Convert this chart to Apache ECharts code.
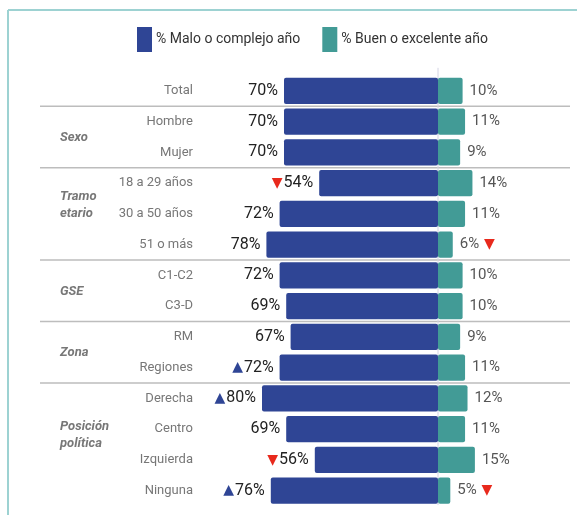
<!DOCTYPE html>
<html>
<head>
<meta charset="utf-8">
<script src="https://cdn.jsdelivr.net/npm/echarts@6/dist/echarts.min.js"></script>
<style>
html,body{margin:0;padding:0;background:#fff;}
#c{width:577px;height:515px;}
</style>
</head>
<body>
<div id="c"></div>
<script>
const categories = ['Total','Hombre','Mujer','18 a 29 años','30 a 50 años','51 o más','C1-C2','C3-D','RM','Regiones','Derecha','Centro','Izquierda','Ninguna'];
const maloValues = [70,70,70,54,72,78,72,69,67,72,80,69,56,76];
const buenValues = [10,11,9,14,11,6,10,10,9,11,12,11,15,5];
// significance marks: 'up', 'down' or ''
const maloMarks = ['','','','down','','','','','','up','up','','down','up'];
const buenMarks = ['','','','','','down','','','','','','','','down'];
const groups = [
  {name:'Sexo', from:1, to:2},
  {name:'Tramo\netario', from:3, to:5},
  {name:'GSE', from:6, to:7},
  {name:'Zona', from:8, to:9},
  {name:'Posición\npolítica', from:10, to:13}
];
const separatorsBefore = [1,3,6,8,10];
const seriesNames = ['% Malo o complejo año','% Buen o excelente año'];

const BLUE = '#2f4595', TEAL = '#429b96';
const FONT = 'Roboto';

const chart = echarts.init(document.getElementById('c'), null, {renderer:'canvas'});
const TOP = 75.5, BOTTOM = 9;

const markRich = {
  up:{color:'#2f4595', fontSize:14, fontFamily:'DejaVu Sans', padding:[0,1,0,0]},
  dn:{color:'#e8291c', fontSize:14, fontFamily:'DejaVu Sans', padding:[0,1,0,1]}
};

const option = {
  animation:false,
  textStyle:{fontFamily:FONT},
  legend:{
    top:22, left:132,
    itemWidth:15, itemHeight:25, itemGap:22,
    icon:'rect',
    textStyle:{fontSize:14, color:'#333', fontFamily:FONT, padding:[3,0,0,-1]},
    data:seriesNames
  },
  grid:[
    {left:218, width:220, top:TOP, bottom:BOTTOM, containLabel:false},
    {left:438, width:123, top:TOP, bottom:BOTTOM, containLabel:false}
  ],
  xAxis:[
    {gridIndex:0, type:'value', min:0, max:100, inverse:true, show:false},
    {gridIndex:1, type:'value', min:0, max:50, show:false}
  ],
  yAxis:[
    {gridIndex:0, type:'category', data:categories, inverse:true,
      axisLine:{show:false}, axisTick:{show:false},
      axisLabel:{margin:25, color:'#777', fontSize:13, fontFamily:FONT}
    },
    {gridIndex:1, type:'category', data:categories, inverse:true,
      axisLine:{show:false}, axisTick:{show:false}, axisLabel:{show:false}
    }
  ],
  series:[
    {
      name:seriesNames[0], type:'bar', xAxisIndex:0, yAxisIndex:0,
      data:maloValues, barCategoryGap:'15%',
      itemStyle:{color:BLUE, borderRadius:2},
      z:3,
      label:{show:true, position:'left', distance:6, color:'#222', fontSize:16, fontFamily:FONT,
        formatter:function(p){
          const m = maloMarks[p.dataIndex];
          const pre = m==='up' ? '{up|▲}' : (m==='down' ? '{dn|▼}' : '');
          return pre + p.value + '%';
        },
        rich:markRich
      }
    },
    {
      name:seriesNames[1], type:'bar', xAxisIndex:1, yAxisIndex:1,
      data:buenValues, barCategoryGap:'15%',
      itemStyle:{color:TEAL, borderRadius:2},
      z:3,
      label:{show:true, position:'right', distance:7, color:'#555', fontSize:15, fontFamily:FONT,
        formatter:function(p){
          const m = buenMarks[p.dataIndex];
          const post = m==='up' ? ' {up|▲}' : (m==='down' ? ' {dn|▼}' : '');
          return p.value + '%' + post;
        },
        rich:markRich
      }
    }
  ]
};
chart.setOption(option);

// frame, separators, centre line and group labels positioned from the category axis
const graphics = [
  {type:'line', shape:{x1:8, y1:10, x2:577, y2:10}, style:{stroke:'#9dd2d2', lineWidth:2}},
  {type:'line', shape:{x1:8, y1:10, x2:8, y2:515}, style:{stroke:'#9dd2d2', lineWidth:2}}
];
const yFirst = chart.convertToPixel({yAxisIndex:0}, categories[0]);
const ySecond = chart.convertToPixel({yAxisIndex:0}, categories[1]);
const band = ySecond - yFirst;
const yLast = chart.convertToPixel({yAxisIndex:0}, categories[categories.length-1]);
const xCenter = chart.convertToPixel({xAxisIndex:0}, 0);
graphics.push({type:'line', z:1, shape:{x1:xCenter, y1:yFirst - band*0.75, x2:xCenter, y2:yLast + band*0.47},
  style:{stroke:'#d4d4e4', lineWidth:1}});
separatorsBefore.forEach(function(i){
  const y = chart.convertToPixel({yAxisIndex:0}, categories[i]) - band/2;
  graphics.push({type:'line', z:0, shape:{x1:40, y1:y, x2:570, y2:y}, style:{stroke:'#bdbdbd', lineWidth:1.5}});
});
groups.forEach(function(g){
  const y1 = chart.convertToPixel({yAxisIndex:0}, categories[g.from]);
  const y2 = chart.convertToPixel({yAxisIndex:0}, categories[g.to]);
  graphics.push({
    type:'text', left:60, top:(y1+y2)/2 - (g.name.indexOf('\n')>=0 ? 26 : 8),
    style:{text:g.name, fill:'#777', font:'italic bold 13px ' + FONT, lineHeight:17, textAlign:'left'}
  });
});
chart.setOption({graphic:graphics});
</script>
</body>
</html>
